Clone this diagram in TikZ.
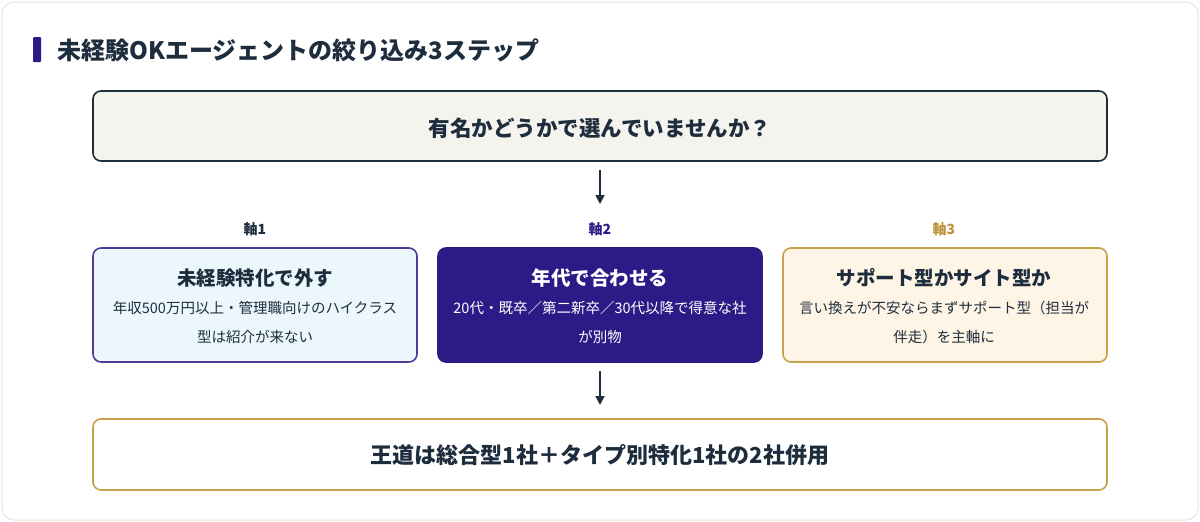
\documentclass[tikz,border=0pt]{standalone}
\usepackage{fontspec}
\setmainfont{Noto Sans CJK JP}
\usetikzlibrary{arrows.meta}
\definecolor{ink}{HTML}{1E2D3D}
\definecolor{purp}{HTML}{2E1A87}
\definecolor{gold}{HTML}{C9A04A}
\definecolor{goldt}{HTML}{C0913A}
\definecolor{qfill}{HTML}{F4F3EE}
\definecolor{b1fill}{HTML}{EBF7FC}
\definecolor{b3fill}{HTML}{FEF5E6}
\definecolor{frame}{HTML}{E8E6D8}
\tikzset{
 box/.style={draw, line width=1.6pt, rounded corners=8pt},
 arr/.style={-{Triangle[length=9pt,width=9pt]}, line width=1.8pt, draw=ink},
 ttl/.style={font=\fontsize{19.5}{21}\selectfont\bfseries, text=ink},
 lab/.style={font=\fontsize{14}{16}\selectfont\bfseries},
 body/.style={font=\fontsize{14.5}{29}\selectfont, text=ink, align=center, text width=320pt},
}
\begin{document}
\begin{tikzpicture}[x=1pt,y=-1pt]
\useasboundingbox (0,0) rectangle (1200,522);
\draw[draw=frame, fill=white, rounded corners=12pt, line width=1pt] (2,2) rectangle (1198,520);
\fill[purp, rounded corners=1pt] (33,37) rectangle (41,62);
\node[anchor=west, font=\fontsize{24}{26}\selectfont\bfseries, text=ink] (title) at (54,50) {未経験OKエージェントの絞り込み3ステップ};
\draw[box, draw=ink, fill=qfill] (93,91) rectangle (1107,161);
\node[font=\fontsize{21.5}{23}\selectfont\bfseries, text=ink] (q) at (600,128) {有名かどうかで選んでいませんか？};
\coordinate (a1s) at (600,170); \coordinate (a1e) at (600,204);
\draw[arr] (a1s) -- (a1e);
\node[lab, text=ink] (l1) at (255,229) {軸1};
\node[lab, text=purp] (l2) at (600,229) {軸2};
\node[lab, text=goldt] (l3) at (944,229) {軸3};
\draw[box, draw=purp!85, fill=b1fill] (93,248) rectangle (417,362);
\draw[box, draw=purp, fill=purp] (438,248) rectangle (762,362);
\draw[box, draw=gold, fill=b3fill] (783,248) rectangle (1107,362);
\node[ttl] (t1) at (255,278) {未経験特化で外す};
\node[body] (b1) at (255,322) {年収500万円以上・管理職向けのハイクラス\\型は紹介が来ない};
\node[ttl, text=white] (t2) at (600,278) {年代で合わせる};
\node[body, text=white] (b2) at (600,322) {20代・既卒／第二新卒／30代以降で得意な社\\が別物};
\node[ttl] (t3) at (944,278) {サポート型かサイト型か};
\node[body] (b3) at (944,322) {言い換えが不安ならまずサポート型（担当が\\伴走）を主軸に};
\coordinate (a2s) at (600,371); \coordinate (a2e) at (600,405);
\draw[arr] (a2s) -- (a2e);
\draw[box, draw=gold, fill=white] (93,419) rectangle (1107,490);
\node[font=\fontsize{22}{24}\selectfont\bfseries, text=ink] (c) at (600,455) {王道は総合型1社＋タイプ別特化1社の2社併用};
\end{tikzpicture}
\end{document}
